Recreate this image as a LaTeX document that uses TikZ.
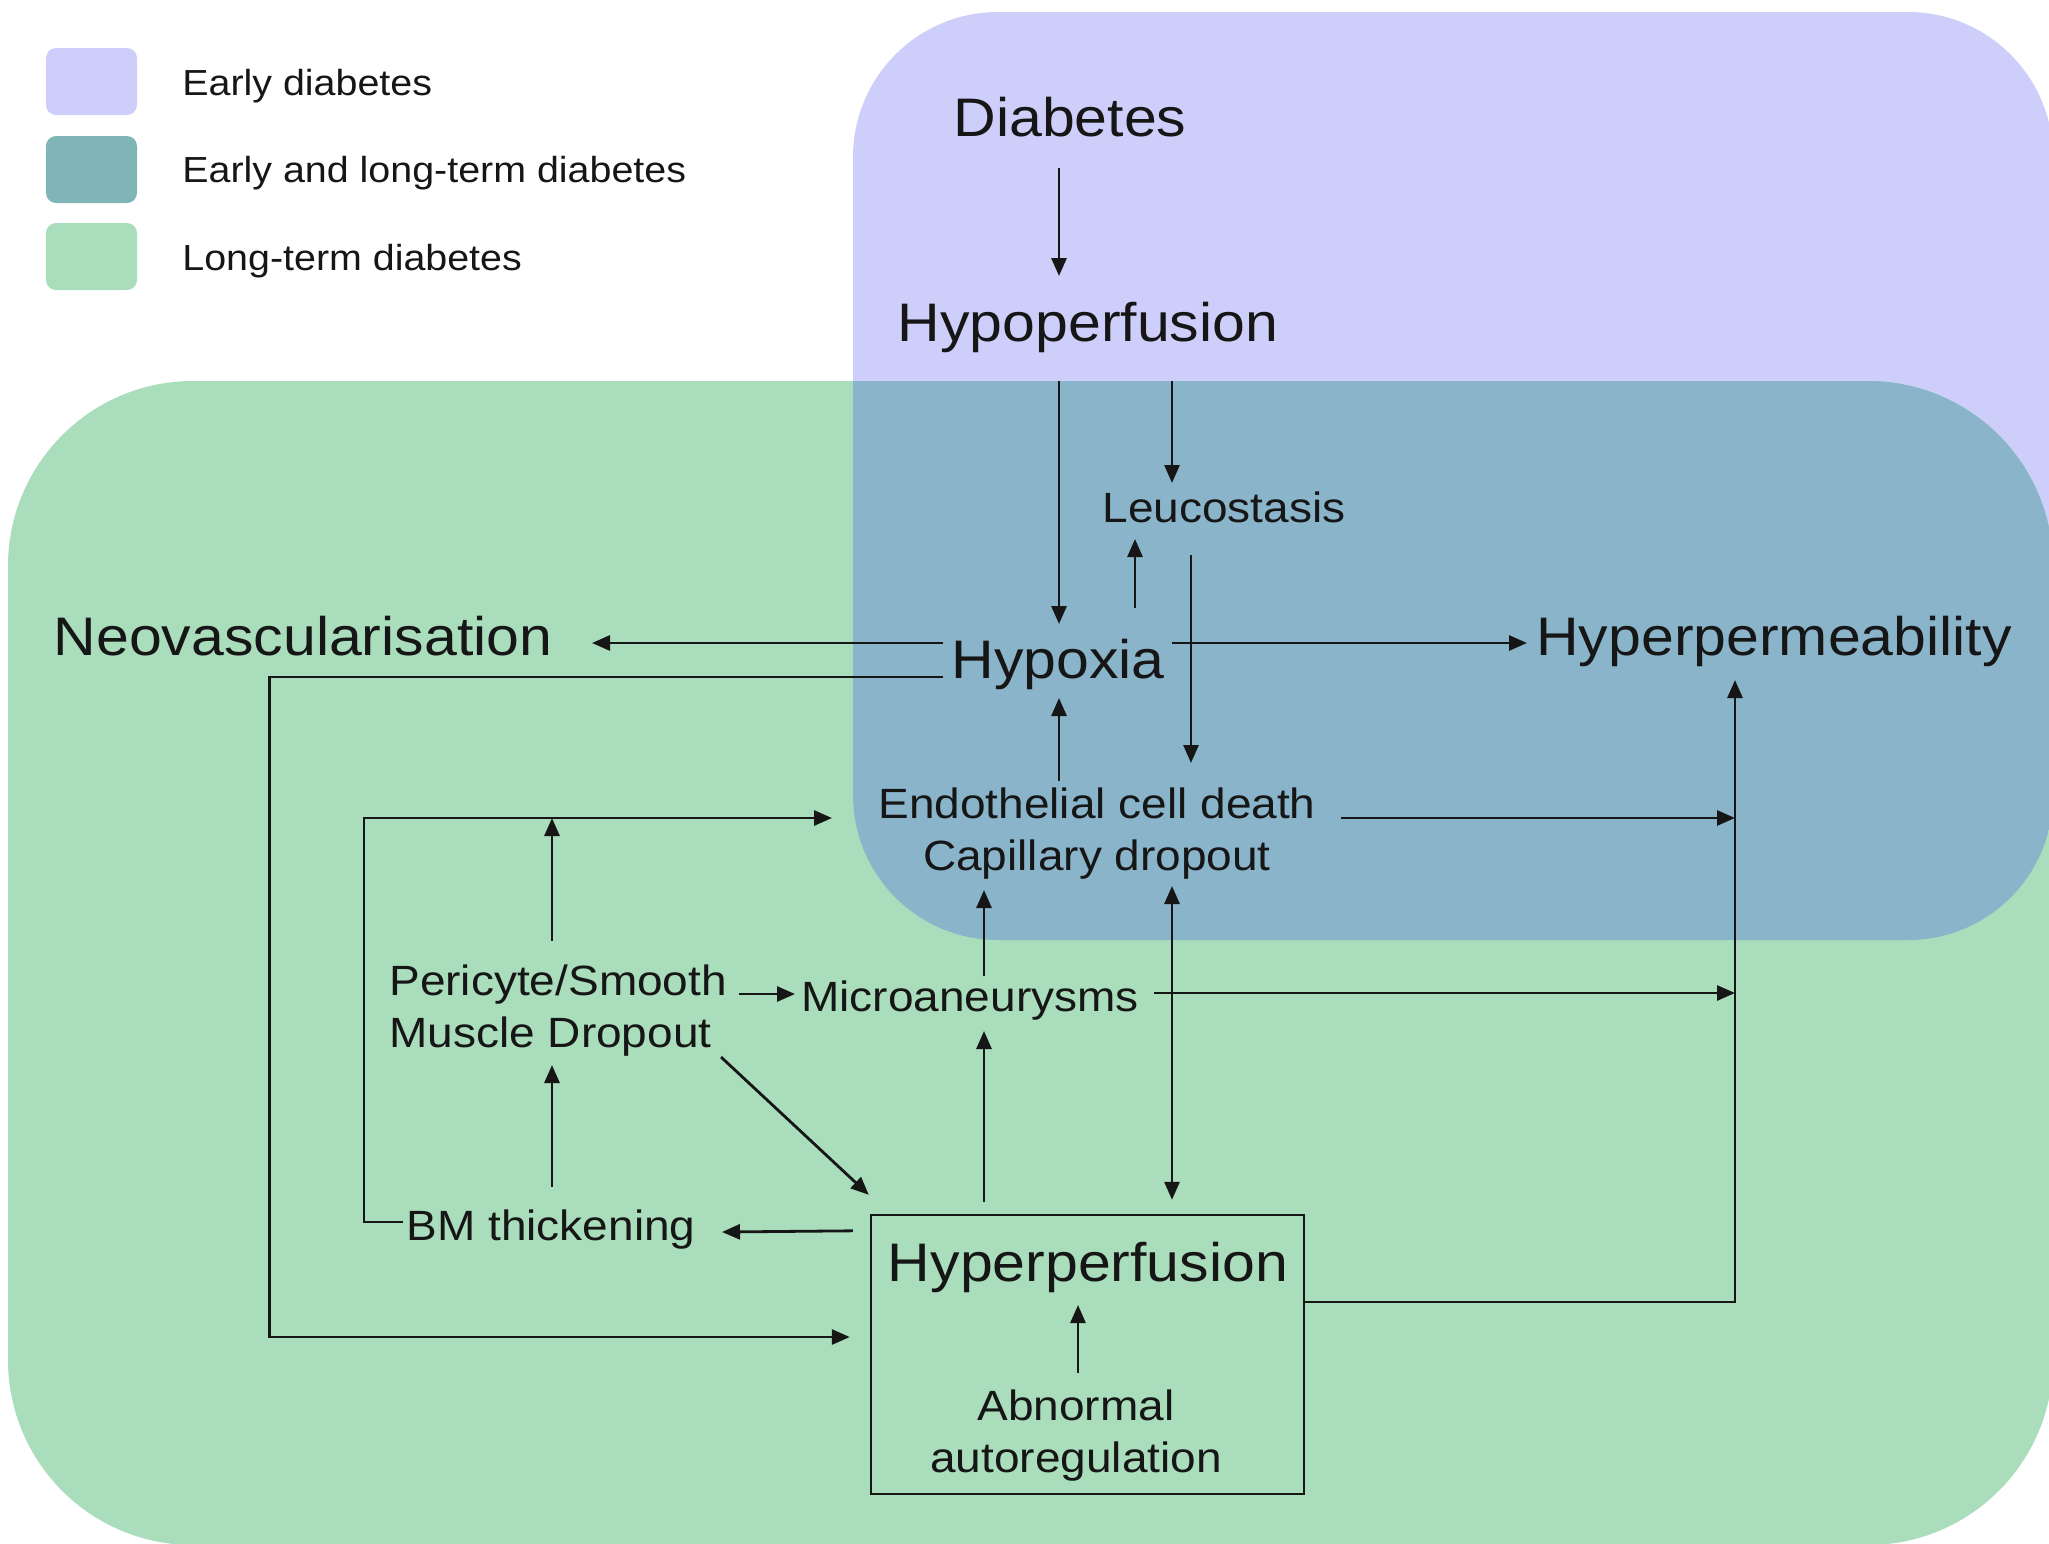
\documentclass[tikz,border=0pt]{standalone}
\usepackage{fontspec}
\setmainfont{Liberation Sans}
\usepackage{graphicx}
\usetikzlibrary{arrows.meta}
\definecolor{purp}{RGB}{206,206,251}
\definecolor{grn}{RGB}{170,221,187}
\definecolor{ovl}{RGB}{137,180,202}
\definecolor{tealleg}{RGB}{127,181,182}
\definecolor{ink}{RGB}{22,22,22}
\newcommand\sq[1]{\scalebox{1}[0.92]{#1}}
\begin{document}
\begin{tikzpicture}[x=0.5pt,y=-0.5pt,
  big/.style={font=\fontsize{29.5}{34}\selectfont, text=ink, inner sep=0pt, anchor=base},
  med/.style={font=\fontsize{23}{28.3}\selectfont, text=ink, inner sep=0pt, anchor=base},
  leg/.style={font=\fontsize{19.7}{24}\selectfont, text=ink, inner sep=0pt, anchor=base west},
  legsq/.style={minimum width=45.5pt, minimum height=33.5pt, rounded corners=5pt, inner sep=0pt},
  arr/.style={draw=ink, line width=1.4pt, -{Triangle[length=9pt,width=7.5pt]}},
  dbl/.style={draw=ink, line width=1.4pt, {Triangle[length=9pt,width=7.5pt]}-{Triangle[length=9pt,width=7.5pt]}},
  ln/.style={draw=ink, line width=1.4pt}]
\useasboundingbox (0,0) rectangle (2049,1543);
% regions
\fill[purp, rounded corners=72.5pt] (853,12) rectangle (2053,940);
\fill[grn, rounded corners=92.5pt] (8,381) rectangle (2053,1545);
\begin{scope}
  \clip[rounded corners=72.5pt] (853,12) rectangle (2053,940);
  \fill[ovl, rounded corners=92.5pt] (8,381) rectangle (2053,1545);
\end{scope}
% legend
\node[legsq, fill=purp] (lg1) at (91.5,81.5) {};
\node[legsq, fill=tealleg] (lg2) at (91.5,169.5) {};
\node[legsq, fill=grn] (lg3) at (91.5,256.5) {};
\node[leg] (t1) at (182,95) {\sq{Early diabetes}};
\node[leg] (t2) at (182,182) {\sq{Early and long-term diabetes}};
\node[leg] (t3) at (182,270) {\sq{Long-term diabetes}};
% nodes
\node[big] (diab) at (1070,136) {\sq{Diabetes}};
\node[big] (hypo) at (1088,341) {\sq{Hypoperfusion}};
\node[med] (leuco) at (1224,522) {\sq{Leucostasis}};
\node[big] (hypoxia) at (1058,678) {\sq{Hypoxia}};
\node[big] (neo) at (303,655) {\sq{Neovascularisation}};
\node[big] (hperm) at (1774,655) {\sq{Hyperpermeability}};
\node[med] (endo) at (1097,818) {\sq{\begin{tabular}[t]{@{}c@{}}Endothelial cell death\\Capillary dropout\end{tabular}}};
\node[med] (micro) at (970,1011) {\sq{Microaneurysms}};
\node[med, anchor=base west] (peri) at (389,995) {\sq{\begin{tabular}[t]{@{}l@{}}Pericyte/Smooth\\Muscle Dropout\end{tabular}}};
\node[med] (bm) at (551,1240) {\sq{BM thickening}};
\node[draw=ink, line width=1.2pt, minimum width=216.5pt, minimum height=139.5pt, inner sep=0pt] (box) at (1087.5,1354.5) {};
\node[big] (hperf) at (1088,1281) {\sq{Hyperperfusion}};
\node[med] (abn) at (1076,1420) {\sq{\begin{tabular}[t]{@{}c@{}}Abnormal\\autoregulation\end{tabular}}};
% bus line coordinates
\coordinate (busE) at (1735,818);
\coordinate (busM) at (1735,993);
% connectors
\draw[arr] ([shift={(-11,32)}]diab.base) -- ([shift={(-29,-65)}]hypo.base);
\draw[arr] ([shift={(-29,40)}]hypo.base) -- ([shift={(1,-54)}]hypoxia.base);
\draw[arr] ([shift={(84,40)}]hypo.base) -- ([shift={(-52,-39)}]leuco.base);
\draw[arr] ([shift={(77,-70)}]hypoxia.base) -- ([shift={(-89,17)}]leuco.base);
\draw[arr] ([shift={(-33,33)}]leuco.base) -- ([shift={(94,-55)}]endo.base);
\draw[arr] ([shift={(-115,-35)}]hypoxia.base) -- ([shift={(289,-12)}]neo.base);
\draw[arr] ([shift={(-115,-1)}]hypoxia.base) -| ([shift={(-600,-17.5)}]box.west) -- ([shift={(-20,-17.5)}]box.west);
\draw[arr] ([shift={(114,-35)}]hypoxia.base) -- ([shift={(-247,-12)}]hperm.base);
\draw[arr] ([shift={(-38,-37)}]endo.base) -- ([shift={(1,20)}]hypoxia.base);
\draw[arr] ([shift={(244,0)}]endo.base) -- (busE);
\draw[arr] ([shift={(184,-18)}]micro.base) -- (busM);
\draw[arr] ([shift={(0,-52.5)}]box.east) -| ([shift={(-39,25)}]hperm.base);
\draw[arr] ([shift={(350,-1)}]peri.base west) -- ([shift={(-175,-17)}]micro.base);
\draw[arr] ([shift={(14,-35)}]micro.base) -- ([shift={(-113,72)}]endo.base);
\draw[arr] ([shift={(-103.5,-12)}]box.north) -- ([shift={(14,20)}]micro.base);
\draw[dbl] ([shift={(75,68)}]endo.base) -- ([shift={(84.5,-14)}]box.north);
\draw[arr] ([shift={(332,62)}]peri.base west) -- ([shift={(-1,-19)}]box.north west);
\draw[arr] ([shift={(-17,17)}]box.north west) -- ([shift={(171,-8)}]bm.base);
\draw[arr] ([shift={(-148,-18)}]bm.base) -- ++(-39,0) |- ([shift={(-265,0)}]endo.base);
\draw[arr] ([shift={(163,-54)}]peri.base west) coordinate (p0) -- (p0 |- endo.base);
\draw[arr] ([shift={(1,-53)}]bm.base) -- ([shift={(163,70)}]peri.base west);
\draw[arr] ([shift={(2,-47)}]abn.base) -- ([shift={(-10,24)}]hperf.base);
\end{tikzpicture}
\end{document}
